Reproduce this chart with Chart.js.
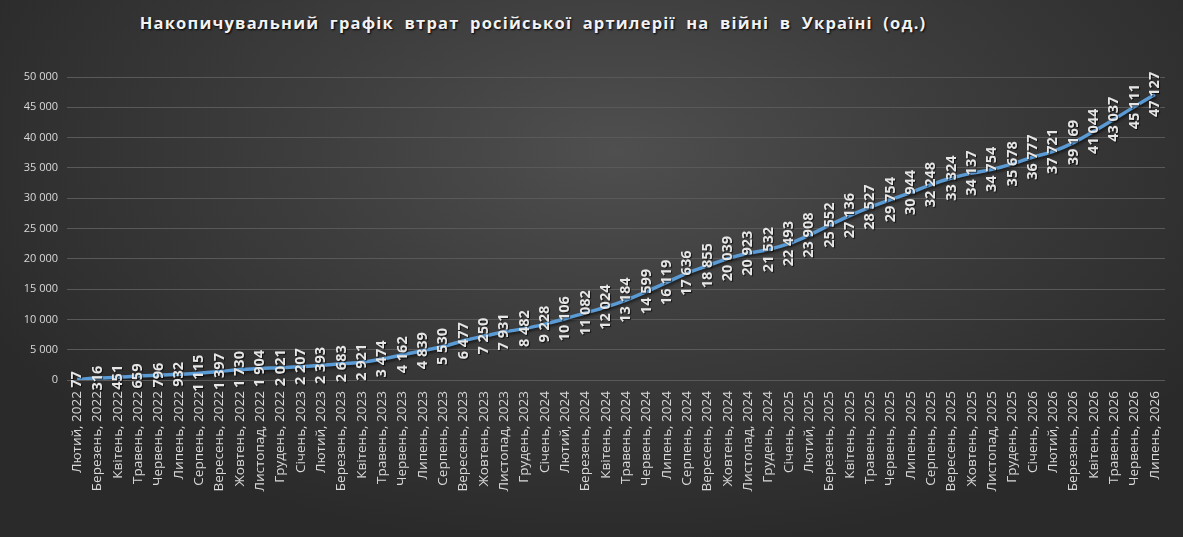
<!DOCTYPE html>
<html>
<head>
<meta charset="utf-8">
<script src="https://cdn.jsdelivr.net/npm/chart.js@4"></script>
<style>
    html, body { margin: 0; padding: 0; }
    body {
        width: 1183px; height: 537px; overflow: hidden; position: relative;
        background: radial-gradient(ellipse 60% 75% at 52% 28%, #4f4f4f 0%, #3d3d3d 45%, #2a2a2a 100%);
    }
    .title {
        position: absolute; left: 0; width: 1066px; top: 11px;
        text-align: center; color: #f2f2f2;
        font: bold 16.5px "Open Sans", sans-serif; letter-spacing: 1.2px; word-spacing: 5px;
        text-shadow: 1px 1px 2px #000;
    }
    .chart { position: absolute; left: 0; top: 0; width: 1183px; height: 537px; }
</style>
</head>
<body>
<div class="title">Накопичувальний графік втрат російської артилерії на війні в Україні (од.)</div>
<div class="chart"><canvas id="data_chart"></canvas></div>
<script>
var labels = [
    'Лютий, 2022', 'Березень, 2022', 'Квітень, 2022', 'Травень, 2022', 'Червень, 2022', 'Липень, 2022',
    'Серпень, 2022', 'Вересень, 2022', 'Жовтень, 2022', 'Листопад, 2022', 'Грудень, 2022',
    'Січень, 2023', 'Лютий, 2023', 'Березень, 2023', 'Квітень, 2023', 'Травень, 2023', 'Червень, 2023',
    'Липень, 2023', 'Серпень, 2023', 'Вересень, 2023', 'Жовтень, 2023', 'Листопад, 2023', 'Грудень, 2023',
    'Січень, 2024', 'Лютий, 2024', 'Березень, 2024', 'Квітень, 2024', 'Травень, 2024', 'Червень, 2024',
    'Липень, 2024', 'Серпень, 2024', 'Вересень, 2024', 'Жовтень, 2024', 'Листопад, 2024', 'Грудень, 2024',
    'Січень, 2025', 'Лютий, 2025', 'Березень, 2025', 'Квітень, 2025', 'Травень, 2025', 'Червень, 2025',
    'Липень, 2025', 'Серпень, 2025', 'Вересень, 2025', 'Жовтень, 2025', 'Листопад, 2025', 'Грудень, 2025',
    'Січень, 2026', 'Лютий, 2026', 'Березень, 2026', 'Квітень, 2026', 'Травень, 2026', 'Червень, 2026',
    'Липень, 2026'
];

var artillery = [
    77, 316, 451, 659, 796, 932, 1115, 1397, 1730, 1904, 2021,
    2207, 2393, 2683, 2921, 3474, 4162, 4839, 5530, 6477, 7250, 7931, 8482,
    9228, 10106, 11082, 12024, 13184, 14599, 16119, 17636, 18855, 20039, 20923, 21532,
    22493, 23908, 25552, 27136, 28527, 29754, 30944, 32248, 33324, 34137, 34754, 35678,
    36777, 37721, 39169, 41044, 43037, 45111, 47127
];

var yTicks = [0, 5000, 10000, 15000, 20000, 25000, 30000, 35000, 40000, 45000, 50000];

function fmt(n){
    return String(n).replace(/\B(?=(\d{3})+(?!\d))/g, ' ');
}

// rotated value labels drawn on top of each point
var valueLabels = {
    id: 'valueLabels',
    afterDatasetsDraw(chart){
        var ctx = chart.ctx;
        var meta = chart.getDatasetMeta(0);
        ctx.save();
        ctx.font = 'bold 14.5px "Open Sans", sans-serif';
        ctx.fillStyle = '#e6e6e6';
        ctx.textAlign = 'center';
        ctx.textBaseline = 'middle';
        ctx.shadowColor = 'rgba(0,0,0,0.7)';
        ctx.shadowOffsetX = 1;
        ctx.shadowOffsetY = 1;
        ctx.shadowBlur = 1;
        meta.data.forEach((pt, i) => {
            ctx.save();
            ctx.translate(pt.x, pt.y);
            ctx.rotate(-Math.PI / 2);
            ctx.fillText(fmt(chart.data.datasets[0].data[i]), 0, 0);
            ctx.restore();
        });
        ctx.restore();
    }
};

var lineShadow = {
    id: 'lineShadow',
    beforeDatasetDraw(chart){
        var ctx = chart.ctx;
        ctx.save();
        ctx.shadowColor = 'rgba(0,0,0,0.55)';
        ctx.shadowOffsetX = 1;
        ctx.shadowOffsetY = 2;
        ctx.shadowBlur = 3;
    },
    afterDatasetDraw(chart){
        chart.ctx.restore();
    }
};

var chart = new Chart("data_chart", {
    type: 'line',
    data: {
        labels: labels,
        datasets: [{
            data: artillery,
            borderColor: '#5b9bd5',
            borderWidth: 3.5,
            pointRadius: 0,
            tension: 0.4,
            fill: false,
        }]
    },
    options: {
        responsive: true,
        maintainAspectRatio: false,
        animation: { duration: 0 },
        layout: { padding: { top: 77, right: 18, bottom: 0, left: 0 } },
        plugins: {
            legend: { display: false },
            tooltip: { enabled: false },
        },
        scales: {
            x: {
                offset: true,
                grid: { display: false, drawTicks: false },
                border: { display: false },
                ticks: {
                    autoSkip: false,
                    maxRotation: 90,
                    minRotation: 90,
                    padding: 11,
                    color: '#d9d9d9',
                    font: { family: 'Open Sans', size: 13.5 },
                },
                afterFit: scale => { scale.height = 157; },
            },
            y: {
                min: 0,
                max: 50000,
                afterBuildTicks: scale => { scale.ticks = yTicks.map(v => ({ value: v })); },
                grid: { color: '#595959', lineWidth: 1, drawTicks: false },
                border: { display: false },
                ticks: {
                    padding: 9,
                    color: '#d9d9d9',
                    font: { family: 'Open Sans', size: 11 },
                    callback: v => fmt(v),
                },
                afterFit: scale => { scale.width = 67; },
            }
        }
    },
    plugins: [lineShadow, valueLabels]
});
</script>
</body>
</html>
